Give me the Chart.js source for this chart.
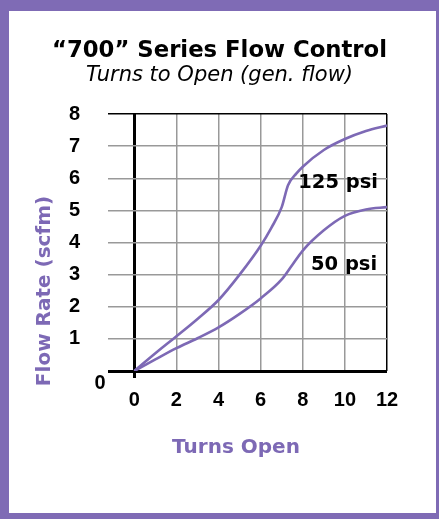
<!DOCTYPE html>
<html>
<head>
<meta charset="utf-8">
<script src="https://cdn.jsdelivr.net/npm/chart.js@4.4.1/dist/chart.umd.min.js"></script>
<style>
  html, body { margin: 0; padding: 0; background: #fff; }
  #wrap { position: relative; width: 439px; height: 519px; overflow: hidden; }
  #c { position: absolute; left: 0; top: 0; }
  #frame { position: absolute; left: 0; top: 0; width: 439px; height: 519px; box-sizing: border-box;
           border-style: solid; border-color: #7f6bb5; border-width: 11px 3px 6px 9px; pointer-events: none; }
</style>
</head>
<body>
<div id="wrap">
  <canvas id="c" width="439" height="519"></canvas>
  <div id="frame"></div>
</div>
<script>
// ---- data ----
const titleText = '\u201C700\u201D Series Flow Control';
const subtitleText = 'Turns to Open (gen. flow)';
const xAxisTitle = 'Turns Open';
const yAxisTitle = 'Flow Rate (scfm)';
const xTicks = [0, 2, 4, 6, 8, 10, 12];
const yTicks = [0, 1, 2, 3, 4, 5, 6, 7, 8];
const series125Label = '125 psi';
const series125X = [0, 1, 2, 3, 4, 5, 6, 6.5, 7, 7.3, 7.7, 8, 9, 10, 11, 12];
const series125Y = [0, 0.55, 1.08, 1.62, 2.21, 3.0, 3.9, 4.45, 5.1, 5.78, 6.15, 6.36, 6.88, 7.22, 7.47, 7.64];
const series50Label = '50 psi';
const series50X = [0, 1, 2, 3, 4, 5, 6, 7, 7.5, 8, 9, 10, 11, 12];
const series50Y = [0, 0.36, 0.71, 1.02, 1.36, 1.78, 2.26, 2.85, 3.3, 3.75, 4.38, 4.83, 5.03, 5.1];
// label anchor positions in data units
const label125At = [9.68, 5.86];
const label50At = [9.96, 3.3];

const PURPLE = '#7d69b5';
const toPts = (xs, ys) => xs.map((x, i) => ({ x: x, y: ys[i] }));

const extraText = {
  id: 'extraText',
  afterDraw(chart) {
    const ctx = chart.ctx;
    const xs = chart.scales.x, ys = chart.scales.y;
    ctx.save();
    ctx.fillStyle = '#000';
    ctx.font = 'bold 20px "Liberation Sans", Arial, sans-serif';
    ctx.textAlign = 'center';
    ctx.textBaseline = 'middle';
    ctx.fillText(String(yTicks[0]), xs.left - 8, ys.getPixelForValue(0) + 12);
    ctx.font = 'bold 19.5px "DejaVu Sans", sans-serif';
    ctx.fillText(series125Label, xs.getPixelForValue(label125At[0]), ys.getPixelForValue(label125At[1]));
    ctx.fillText(series50Label, xs.getPixelForValue(label50At[0]), ys.getPixelForValue(label50At[1]));
    ctx.fillStyle = PURPLE;
    ctx.font = 'bold 20px "DejaVu Sans", sans-serif';
    ctx.fillText(xAxisTitle, 236, 448);
    ctx.translate(45, 291);
    ctx.rotate(-Math.PI / 2);
    ctx.fillText(yAxisTitle, 0, 0);
    ctx.restore();
  }
};

Chart.defaults.font.family = '"Liberation Sans", Arial, sans-serif';

new Chart(document.getElementById('c'), {
  type: 'line',
  data: {
    datasets: [
      { label: series125Label, data: toPts(series125X, series125Y), borderColor: PURPLE, borderWidth: 2.6,
        pointRadius: 0, fill: false, cubicInterpolationMode: 'monotone' },
      { label: series50Label, data: toPts(series50X, series50Y), borderColor: PURPLE, borderWidth: 2.6,
        pointRadius: 0, fill: false, cubicInterpolationMode: 'monotone' }
    ]
  },
  options: {
    responsive: false,
    animation: false,
    devicePixelRatio: 1,
    layout: { padding: { left: 52, right: 52, top: 0, bottom: 0 } },
    plugins: {
      legend: { display: false },
      tooltip: { enabled: false },
      title: {
        display: true, text: titleText, color: '#000',
        font: { family: '"DejaVu Sans", sans-serif', weight: 'bold', size: 23, lineHeight: 1 },
        padding: { top: 39.5, bottom: 0 }
      },
      subtitle: {
        display: true, text: subtitleText, color: '#000',
        font: { family: '"DejaVu Sans", sans-serif', style: 'italic', size: 21, lineHeight: 1 },
        padding: { top: 3, bottom: 27.5 }
      }
    },
    scales: {
      x: {
        type: 'linear', min: -1.25, max: 12,
        afterBuildTicks: (s) => { s.ticks = xTicks.map(v => ({ value: v })); },
        afterFit: (s) => { s.height = 148; },
        border: { display: false },
        grid: {
          color: (c) => (c.tick && (c.tick.value === 0 || c.tick.value === 12)) ? '#000' : '#999',
          lineWidth: (c) => (c.tick && c.tick.value === 0) ? 3 : 1.5,
          drawTicks: true, tickLength: 7,
          tickColor: (c) => (c.tick && c.tick.value === 0) ? '#000' : 'rgba(0,0,0,0)',
          tickWidth: 3
        },
        ticks: { color: '#000', font: { weight: 'bold', size: 20 }, padding: 10, autoSkip: false, maxRotation: 0,
                 callback: (v) => String(v) }
      },
      y: {
        type: 'linear', min: 0, max: 8,
        afterBuildTicks: (s) => { s.ticks = yTicks.map(v => ({ value: v })); },
        afterFit: (s) => { s.width = 56; },
        border: { display: false },
        grid: {
          color: (c) => (c.tick && (c.tick.value === 0 || c.tick.value === 8)) ? '#000' : '#999',
          lineWidth: (c) => (c.tick && c.tick.value === 0) ? 3 : 1.5,
          drawTicks: false
        },
        ticks: { color: '#000', font: { weight: 'bold', size: 20 }, padding: 28, autoSkip: false,
                 callback: (v) => v === 0 ? '' : String(v) }
      }
    }
  },
  plugins: [extraText]
});
</script>
</body>
</html>
